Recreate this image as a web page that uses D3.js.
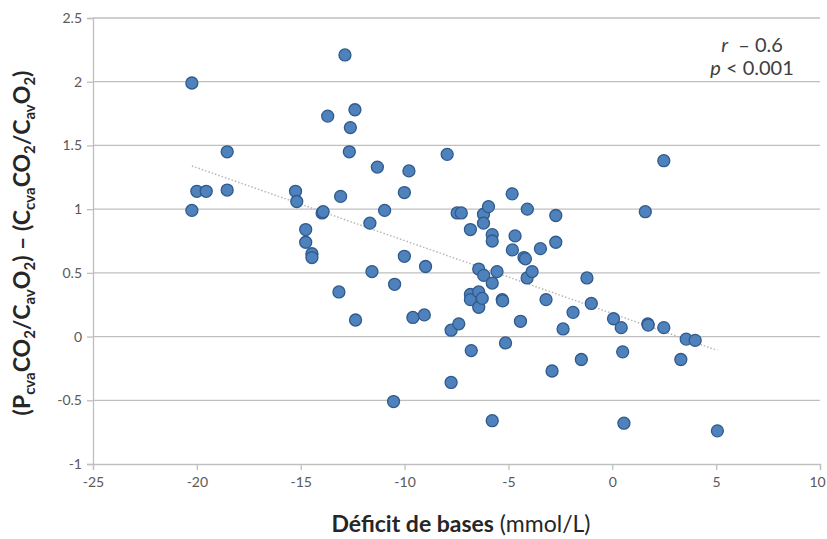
<!DOCTYPE html>
<html><head><meta charset="utf-8">
<script src="https://cdn.jsdelivr.net/npm/d3@7"></script>
<style>body{margin:0;background:#fff;} svg{display:block;}</style>
</head><body>
<svg id="c" width="827" height="539"></svg>
<script>
// Base deficit (mmol/L)
const baseDeficit = [-20.24,-20.24,-20.0,-19.55,-18.54,-18.54,-15.25,-15.19,-14.76,-14.76,-14.46,-14.46,-13.97,-13.92,-13.70,-13.16,-13.08,-12.87,-12.66,-12.61,-12.39,-12.36,-11.67,-11.57,-11.31,-10.96,-10.53,-10.48,-10.01,-10.01,-9.79,-9.60,-9.05,-8.99,-7.95,-7.76,-7.76,-7.39,-7.47,-7.27,-6.83,-6.83,-6.83,-6.79,-6.43,-6.43,-6.43,-6.26,-6.20,-6.20,-6.19,-5.96,-5.78,-5.78,-5.78,-5.78,-5.55,-5.30,-5.28,-5.14,-4.82,-4.81,-4.68,-4.42,-4.25,-4.18,-4.10,-4.09,-3.86,-3.46,-3.19,-2.90,-2.72,-2.72,-2.37,-1.89,-1.49,-1.22,-1.01,0.06,0.43,0.50,0.56,1.59,1.71,1.73,2.48,2.48,3.30,3.56,3.99,5.06];
// (PcvaCO2/CavO2) - (CcvaCO2/CavO2)
const ratioDiff = [1.99,0.99,1.14,1.14,1.45,1.15,1.14,1.06,0.84,0.74,0.65,0.62,0.97,0.98,1.73,0.35,1.10,2.21,1.45,1.64,1.78,0.13,0.89,0.51,1.33,0.99,-0.51,0.41,1.13,0.63,1.30,0.15,0.17,0.55,1.43,0.05,-0.36,0.10,0.97,0.97,0.84,0.33,0.29,-0.11,0.53,0.35,0.23,0.30,0.96,0.89,0.48,1.02,0.80,0.75,0.42,-0.66,0.51,0.29,0.28,-0.05,1.12,0.68,0.79,0.12,0.62,0.61,0.46,1.00,0.51,0.69,0.29,-0.27,0.95,0.74,0.06,0.19,-0.18,0.46,0.26,0.14,0.07,-0.12,-0.68,0.98,0.10,0.09,1.38,0.07,-0.18,-0.02,-0.03,-0.74];
const xTicks = [-25,-20,-15,-10,-5,0,5,10];
const yTicks = [-1,-0.5,0,0.5,1,1.5,2,2.5];

const svg = d3.select("#c");
const L = 93, R = 820, T = 18, B = 464;
const x = d3.scaleLinear().domain([-25,10]).range([L,R]);
const y = d3.scaleLinear().domain([-1,2.5]).range([B,T]);
const gridCol = "#bfbfbf";
const tickFont = "'Lato','Open Sans',sans-serif";

// gridlines
svg.append("g").selectAll("line").data(yTicks.filter(d=>d>-1)).join("line")
  .attr("x1",L).attr("x2",R).attr("y1",d=>y(d)).attr("y2",d=>y(d))
  .attr("stroke",gridCol).attr("stroke-width",1.3);

// y axis
const ya = svg.append("g").attr("transform",`translate(${L},0)`)
  .call(d3.axisLeft(y).tickValues(yTicks).tickSize(6).tickPadding(5).tickFormat(d=>String(d)));
ya.select(".domain").attr("stroke",gridCol).attr("stroke-width",1.3);
ya.selectAll(".tick line").attr("stroke",gridCol).attr("stroke-width",1.3);
ya.selectAll(".tick text").attr("fill","#595959").style("font-family",tickFont).style("font-size","14px");

// x axis
const xa = svg.append("g").attr("transform",`translate(0,${B})`)
  .call(d3.axisBottom(x).tickValues(xTicks).tickSize(6).tickPadding(7).tickFormat(d=>String(d)));
xa.select(".domain").attr("stroke",gridCol).attr("stroke-width",1.3);
xa.selectAll(".tick line").attr("stroke",gridCol).attr("stroke-width",1.3);
xa.selectAll(".tick text").attr("fill","#595959").style("font-family",tickFont).style("font-size","14px")
  .attr("dx",d=>d===xTicks[xTicks.length-1]? -3 : 0);

// linear trend
const pts = baseDeficit.map((v,i)=>[v, ratioDiff[i]]);
const mx = d3.mean(pts,d=>d[0]), my = d3.mean(pts,d=>d[1]);
const slope = d3.sum(pts,d=>(d[0]-mx)*(d[1]-my))/d3.sum(pts,d=>(d[0]-mx)**2);
const icpt = my - slope*mx;
const x0 = d3.min(baseDeficit), x1 = d3.max(baseDeficit);
svg.append("line").attr("x1",x(x0)).attr("y1",y(icpt+slope*x0)).attr("x2",x(x1)).attr("y2",y(icpt+slope*x1))
  .attr("stroke","#b8b8b8").attr("stroke-width",1.5).attr("stroke-dasharray","1.5,2");

// points
svg.append("g").selectAll("circle").data(pts).join("circle")
  .attr("cx",d=>x(d[0])).attr("cy",d=>y(d[1])).attr("r",6)
  .attr("fill","#4f81bd").attr("stroke","#2f5b8c").attr("stroke-width",1.3);

// stats annotation
const st = svg.append("g").style("font-family",tickFont).style("font-size","20px").attr("fill","#404040");
const t1 = st.append("text").attr("x",752).attr("y",52).attr("text-anchor","middle");
t1.append("tspan").attr("font-style","italic").text("r");
t1.append("tspan").text("  \u2013 0.6").style("white-space","pre");
const t2 = st.append("text").attr("x",752).attr("y",75).attr("text-anchor","middle");
t2.append("tspan").attr("font-style","italic").text("p");
t2.append("tspan").text(" < 0.001").style("white-space","pre");

// x title
const xt = svg.append("text").attr("x",461).attr("y",532).attr("text-anchor","middle")
  .style("font-family",tickFont).style("font-size","23px").attr("fill","#262626");
xt.append("tspan").attr("font-weight","bold").text("Déficit de bases");
xt.append("tspan").text(" (mmol/L)");

// y title
const yt = svg.append("text").attr("transform","translate(30,243) rotate(-90)").attr("text-anchor","middle")
  .style("font-family",tickFont).style("font-size","23px").attr("font-weight","bold").attr("fill","#262626");
const parts = [["(P",0],["cva",1],["CO",0],["2",1],["/C",0],["av",1],["O",0],["2",1],[") \u2013 (C",0],["cva",1],["CO",0],["2",1],["/C",0],["av",1],["O",0],["2",1],[")",0]];
let prevSub = false;
parts.forEach(([s,sub])=>{
  const ts = yt.append("tspan").text(s).style("white-space","pre");
  if (sub) { ts.attr("font-size","15px").attr("dy", prevSub?0:5); }
  else if (prevSub) { ts.attr("dy",-5); }
  prevSub = !!sub;
});
</script>
</body></html>
